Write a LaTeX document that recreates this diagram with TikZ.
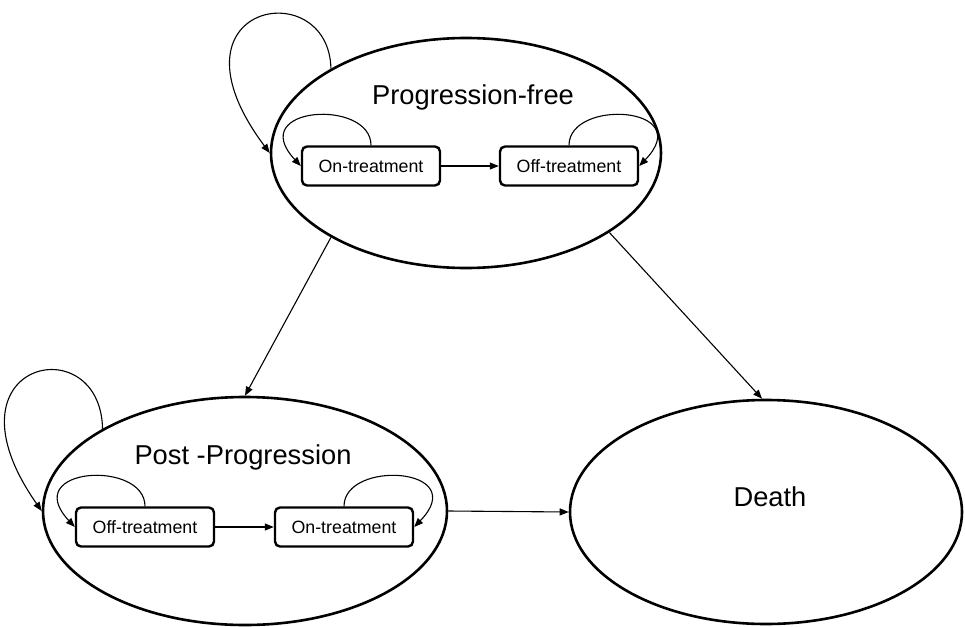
\documentclass[tikz,border=0pt]{standalone}
\usepackage{fontspec}
\setmainfont{Liberation Sans}
\usetikzlibrary{shapes.geometric,arrows.meta}
\begin{document}
\begin{tikzpicture}[x=1pt,y=-1pt,
  state/.style={draw,ellipse,line width=2.6pt,inner sep=0pt},
  sub/.style={draw,rounded corners=5pt,line width=2.4pt,minimum width=138pt,minimum height=39pt,inner sep=0pt,font=\fontsize{17.8}{20}\selectfont},
  big/.style={font=\fontsize{27.3}{30}\selectfont,inner sep=0pt},
  arr/.style={line width=1.1pt,-{Triangle[length=9pt,width=7pt]}}]
\useasboundingbox (0,0) rectangle (965,626);
\node[state,minimum width=390pt,minimum height=230pt] (PF) at (466,153) {};
\node[state,minimum width=404pt,minimum height=228pt] (PP) at (245,511) {};
\node[state,minimum width=392pt,minimum height=224pt] (D) at (766,512) {};
\node[big] (tPF) at (473,97) {Progression-free};
\node[big] (tPP) at (243,457) {Post -Progression};
\node[big] (tD) at (770,497) {Death};
\node[sub] (on1) at (371,166) {On-treatment};
\node[sub] (off1) at (569,166) {Off-treatment};
\node[sub] (off2) at (145,527) {Off-treatment};
\node[sub] (on2) at (344,527) {On-treatment};
% inner transitions
\draw[arr] (on1) -- (off1);
\draw[arr] (off2) -- (on2);
\draw[arr] (on1.north) .. controls +(0,-47) and +(-56,-60) .. (on1.west);
\draw[arr] (off1.north) .. controls +(0,-47) and +(58,-60) .. (off1.east);
\draw[arr] (off2.north) .. controls +(0,-47) and +(-56,-60) .. (off2.west);
\draw[arr] (on2.north) .. controls +(0,-47) and +(58,-60) .. (on2.east);
% big loops
\draw[arr] (PF.148) .. controls +(-2,-96) and +(-112,-150) .. (PF.west);
\draw[arr] (PP.150) .. controls +(-2,-103) and +(-105,-150) .. (PP.west);
% between states
\draw[arr] (PF.212) -- (PP.north);
\draw[arr] (PF.331) -- (D.92);
\draw[arr] (PP.east) -- (D.west);
\end{tikzpicture}
\end{document}
